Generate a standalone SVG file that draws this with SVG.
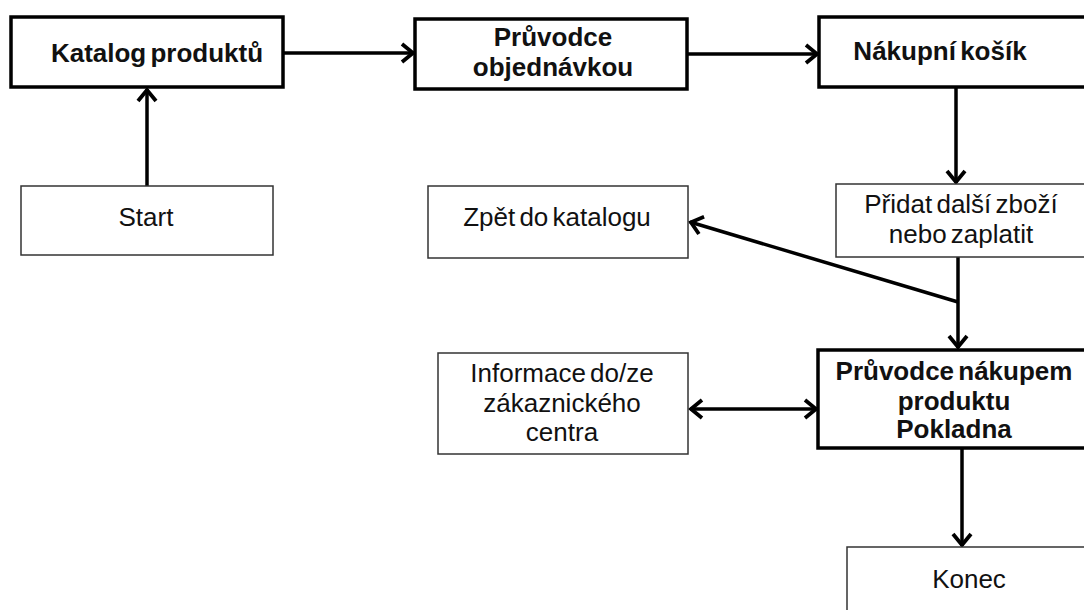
<svg xmlns="http://www.w3.org/2000/svg" width="1084" height="610" viewBox="0 0 1084 610">
<style>
.thick{fill:#fff;stroke:#000;stroke-width:3.5}
.thin{fill:#fff;stroke:#333;stroke-width:1.5}
.b{font-family:"Liberation Sans",Arial,sans-serif;font-weight:bold;font-size:26px;fill:#111;text-anchor:middle;word-spacing:-3px}
.r{font-family:"Liberation Sans",Arial,sans-serif;font-size:26px;fill:#111;text-anchor:middle;word-spacing:-3px}
.c{fill:none;stroke:#000;stroke-width:3.5}
</style>
<defs>
<marker id="ah" markerUnits="userSpaceOnUse" markerWidth="30" markerHeight="30" viewBox="-15 -15 30 30" refX="0" refY="0" orient="auto-start-reverse">
<path d="M-12,-9 L-1,0 L-12,9" fill="none" stroke="#000" stroke-width="3.8"/>
</marker>
</defs>
<rect width="1084" height="610" fill="#fff"/>
<g id="connectors">
<line class="c" x1="147" y1="186" x2="147" y2="89" marker-end="url(#ah)"/>
<line class="c" x1="283" y1="53" x2="414" y2="53" marker-end="url(#ah)"/>
<line class="c" x1="687" y1="54" x2="818" y2="54" marker-end="url(#ah)"/>
<line class="c" x1="956" y1="87" x2="956" y2="183" marker-end="url(#ah)"/>
<line class="c" x1="958" y1="257" x2="958" y2="348" marker-end="url(#ah)"/>
<line class="c" x1="958" y1="302" x2="690" y2="222" marker-end="url(#ah)"/>
<line class="c" x1="690" y1="409" x2="817" y2="409" marker-start="url(#ah)" marker-end="url(#ah)"/>
<line class="c" x1="962" y1="448" x2="962" y2="546" marker-end="url(#ah)"/>
</g>
<g id="katalog"><rect class="thick" x="11" y="17" width="272" height="70"/><text class="b" x="157" y="62">Katalog produktů</text></g>
<g id="pruvodce-objednavkou"><rect class="thick" x="415" y="19" width="272" height="70"/><text class="b" x="553" y="46">Průvodce</text><text class="b" x="553" y="76">objednávkou</text></g>
<g id="nakupni-kosik"><rect class="thick" x="819" y="17" width="280" height="70"/><text class="b" x="940" y="60">Nákupní košík</text></g>
<g id="start"><rect class="thin" x="21" y="186" width="252" height="69"/><text class="r" x="146" y="226">Start</text></g>
<g id="zpet"><rect class="thin" x="428" y="186" width="260" height="72"/><text class="r" x="557" y="226">Zpět do katalogu</text></g>
<g id="pridat"><rect class="thin" x="836" y="184" width="260" height="73"/><text class="r" x="961" y="213">Přidat další zboží</text><text class="r" x="961" y="243">nebo zaplatit</text></g>
<g id="informace"><rect class="thin" x="438" y="353" width="250" height="101"/><text class="r" x="562" y="382">Informace do/ze</text><text class="r" x="562" y="412">zákaznického</text><text class="r" x="562" y="441">centra</text></g>
<g id="pokladna"><rect class="thick" x="818" y="350" width="280" height="98"/><text class="b" x="954" y="380">Průvodce nákupem</text><text class="b" x="954" y="410">produktu</text><text class="b" x="954" y="438">Pokladna</text></g>
<g id="konec"><rect class="thin" x="847" y="547" width="250" height="80"/><text class="r" x="969" y="588">Konec</text></g>
</svg>
